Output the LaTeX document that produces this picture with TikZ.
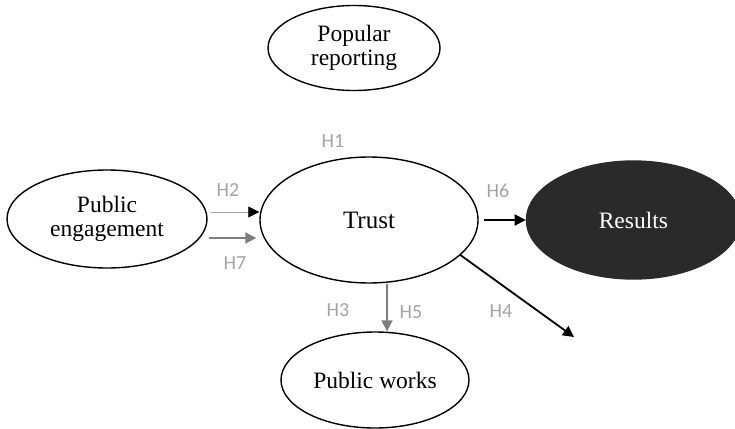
\documentclass[tikz,border=0pt]{standalone}
\usepackage{fontspec}
\setmainfont{Liberation Serif}
\newfontfamily\hypfont{Carlito}
\usetikzlibrary{shapes.geometric,arrows.meta,positioning}
\definecolor{hypgray}{HTML}{A3A3A3}
\definecolor{linegray}{HTML}{7E7E7E}
\definecolor{darkfill}{HTML}{2A2A2A}

\begin{document}
\begin{tikzpicture}[x=1pt,y=-1pt,>={Triangle[length=11pt,width=11pt]},
  construct/.style={ellipse,draw,line width=1.4pt,inner sep=0pt,align=center,
    font=\fontsize{23.5}{24.5}\selectfont},
  hyp/.style={text=hypgray,font=\hypfont\fontsize{20}{22}\selectfont}]
\useasboundingbox (0,0) rectangle (735,428);
\node[construct,minimum width=172pt,minimum height=85pt] (popular) at (354,48) {Popular\\reporting};
\node[construct,minimum width=218pt,minimum height=126pt,font=\fontsize{25}{26}\selectfont] (trust) at (369,220) {Trust};
\node[construct,minimum width=200pt,minimum height=98pt] (engage) at (107,219) {Public\\engagement};
\node[construct,minimum width=188pt,minimum height=96pt] (works) at (375,380) {Public works};
\node[construct,fill=darkfill,draw=darkfill,text=white,minimum width=214pt,minimum height=118pt,
  right=47pt of trust] (results) {Results};
\coordinate (free) at (574,337);
% hypotheses
\draw[->,hypgray,line width=0.8pt,-{Triangle[length=11pt,width=11pt,black]}]
  ([xshift=3pt,yshift=7pt]engage.east) -- ([yshift=7pt]engage.east -| trust.west);
\draw[->,linegray,line width=2pt,shorten >=3pt]
  ([xshift=1pt,yshift=-19pt]engage.east) -- ([yshift=-19pt]engage.east -| trust.west);
\draw[->,line width=2pt,shorten <=5pt] (trust) -- (results);
\draw[->,line width=1.8pt] (trust.-21) -- (free);
\draw[->,linegray,line width=2pt] ([xshift=18pt]trust.south) -- ([xshift=18pt]trust.south |- works.north);
\node[hyp] (h1) at (333,141) {H1};
\node[hyp] (h2) at (228,190) {H2};
\node[hyp] (h7) at (235,263) {H7};
\node[hyp] (h6) at (498,191) {H6};
\node[hyp] (h3) at (338,310) {H3};
\node[hyp] (h5) at (411,312) {H5};
\node[hyp] (h4) at (501,311) {H4};
\end{tikzpicture}
\end{document}
